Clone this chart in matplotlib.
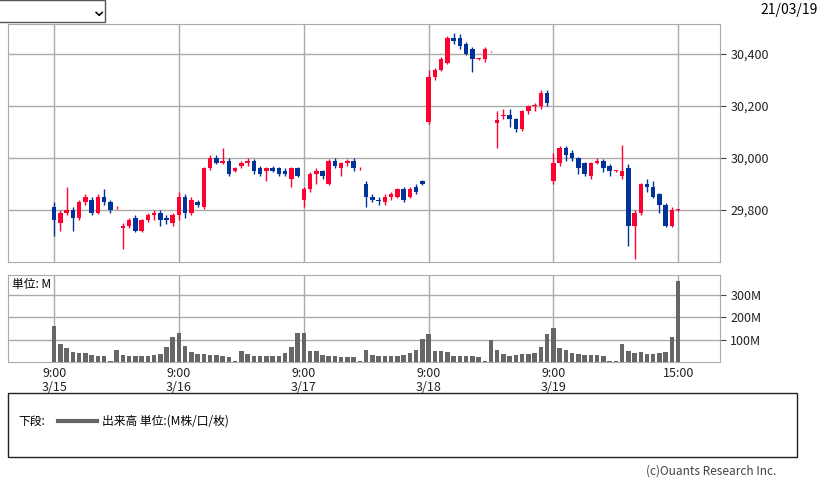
import matplotlib.pyplot as plt
from matplotlib.patches import Rectangle

plt.rcParams['font.family'] = ['Noto Sans CJK JP', 'DejaVu Sans']

# 20 slots per session day, 9:00 at slot 0, last slot (100) = 15:00 on 3/19
opens = [
    29810, 29750, 29790, 29800, 29770, 29830, 29840, 29790, 29850, 29830,
    29810, 29730, 29740, 29770, 29720, 29760, 29780, 29790, 29770, 29750,
    29780, 29850, 29790, 29830, 29810, 29960, 30000, 29980, 29990, 29950,
    29970, 29980, 29990, 29960, 29950, 29960, 29960, 29950, 29920, 29960,
    29840, 29880, 29940, 29950, 29900, 29990, 29960, 29980, 29990, 29960,
    29900, 29850, 29840, 29830, 29850, 29850, 29880, 29850, 29890, 29910,
    30140, 30310, 30340, 30365, 30460, 30460, 30440, 30420, 30380, 30380,
    30410, 30135, 30160, 30165, 30150, 30110, 30180, 30200, 30200, 30250,
    29910, 29980, 30040, 30020, 30000, 29980, 29930, 29980, 29990, 29970,
    29950, 29930, 29960, 29740, 29790, 29900, 29890, 29860, 29820, 29740,
    29800,
]
closes = [
    29760, 29790, 29800, 29770, 29830, 29850, 29790, 29850, 29830, 29800,
    29810, 29740, 29760, 29720, 29760, 29780, 29790, 29760, 29760, 29780,
    29850, 29790, 29840, 29820, 29960, 30000, 29980, 29990, 29940, 29960,
    29980, 29990, 29950, 29940, 29960, 29950, 29940, 29940, 29960, 29930,
    29880, 29940, 29950, 29930, 29990, 29970, 29980, 29990, 29960, 29960,
    29850, 29840, 29835, 29850, 29860, 29880, 29840, 29880, 29870, 29900,
    30310, 30340, 30380, 30460, 30450, 30430, 30400, 30380, 30380, 30420,
    30410, 30145, 30165, 30150, 30110, 30180, 30200, 30205, 30250, 30210,
    29980, 30040, 30010, 30000, 29960, 29940, 29980, 29990, 29960, 29950,
    29950, 29950, 29740, 29790, 29900, 29890, 29850, 29820, 29740, 29800,
    29800,
]
highs = [
    29830, 29800, 29890, 29810, 29840, 29860, 29850, 29860, 29880, 29840,
    29815, 29750, 29770, 29780, 29765, 29790, 29800, 29800, 29780, 29790,
    29870, 29860, 29850, 29840, 29965, 30010, 30010, 30040, 30000, 29965,
    29990, 30000, 29995, 29970, 29965, 29970, 29965, 29960, 29965, 29965,
    29890, 29945, 29960, 29955, 29995, 30000, 29985, 29995, 30000, 29965,
    29910, 29860, 29850, 29860, 29870, 29885, 29890, 29890, 29900, 29915,
    30340, 30345, 30390, 30470, 30480, 30475, 30445, 30425, 30385, 30425,
    30412, 30180, 30190, 30190, 30155, 30185, 30205, 30210, 30260, 30260,
    30020, 30045, 30045, 30030, 30005, 29985, 29985, 30000, 29995, 29975,
    29955, 30050, 29975, 29800, 29905, 29920, 29910, 29865, 29825, 29810,
    29805,
]
lows = [
    29700, 29720, 29780, 29720, 29760, 29820, 29780, 29785, 29820, 29790,
    29805, 29650, 29730, 29715, 29715, 29755, 29760, 29740, 29745, 29740,
    29760, 29770, 29780, 29810, 29805, 29955, 29975, 29975, 29930, 29945,
    29960, 29970, 29940, 29930, 29910, 29945, 29930, 29930, 29890, 29925,
    29810, 29870, 29900, 29920, 29895, 29960, 29930, 29970, 29950, 29955,
    29810, 29830, 29820, 29820, 29840, 29845, 29830, 29845, 29860, 29895,
    30130, 30300, 30335, 30360, 30440, 30420, 30395, 30330, 30375, 30370,
    30406, 30040, 30150, 30120, 30100, 30105, 30170, 30180, 30190, 30200,
    29900, 29970, 29990, 29990, 29940, 29930, 29920, 29975, 29945, 29930,
    29945, 29920, 29660, 29610, 29780, 29870, 29845, 29790, 29735, 29735,
    29795,
]
volumes = [
    160, 80, 62, 45, 40, 40, 32, 28, 25, 4, 55, 30, 25, 25, 25, 28, 32, 38, 65, 110,
    130, 70, 45, 38, 35, 32, 30, 26, 22, 5, 48, 35, 28, 25, 25, 25, 28, 40, 65, 130,
    130, 48, 48, 30, 28, 25, 22, 22, 22, 5, 55, 30, 25, 25, 25, 25, 30, 40, 55, 105,
    125, 50, 50, 45, 28, 28, 25, 25, 22, 5, 100, 55, 35, 25, 32, 35, 38, 40, 65, 125,
    150, 62, 55, 40, 35, 30, 30, 30, 28, 5, 5, 80, 50, 40, 45, 35, 35, 40, 45, 110,
    360,
]
tick_pos = [0, 20, 40, 60, 80, 100]
tick_labels = ['9:00\n3/15', '9:00\n3/16', '9:00\n3/17', '9:00\n3/18', '9:00\n3/19', '15:00']
price_ticks = [29800, 30000, 30200, 30400]
vol_ticks = [100, 200, 300]

UP = '#ff0033'
DOWN = '#003399'
GRID = '#aaaaaa'

fig = plt.figure(figsize=(8.28, 4.82), dpi=100)
ax = fig.add_axes([8 / 828, 1 - 262 / 482, 712 / 828, 238 / 482])
axv = fig.add_axes([8 / 828, 1 - 362 / 482, 712 / 828, 87 / 482])

xs = list(range(len(opens)))
for i, o, c, h, l in zip(xs, opens, closes, highs, lows):
    col = UP if c >= o else DOWN
    ax.vlines(i, l, h, color=col, lw=1, zorder=3)
    bottom = min(o, c)
    height = max(abs(c - o), 3)
    ax.add_patch(Rectangle((i - 0.36, bottom), 0.72, height, color=col, lw=0, zorder=4))

axv.bar(xs, volumes, width=0.72, color='#666666', zorder=3)

for a in (ax, axv):
    a.set_xlim(-7.4, 106.7)
    a.set_xticks(tick_pos)
    a.grid(True, color=GRID, lw=1)
    a.set_axisbelow(True)
    for s in a.spines.values():
        s.set_color(GRID)
    a.yaxis.tick_right()
    a.tick_params(length=4, color='#444444', labelsize=9, colors='#222222')
    a.tick_params(axis='x', length=0)

ax.set_ylim(29600, 30515)
ax.set_yticks(price_ticks)
ax.set_yticklabels([f'{v:,}' for v in price_ticks])
ax.set_xticklabels([])

axv.set_ylim(0, 389)
axv.set_yticks(vol_ticks)
axv.set_yticklabels([f'{v}M' for v in vol_ticks])
axv.set_xticklabels(tick_labels, fontsize=9, linespacing=1.1)
axv.text(0.005, 0.96, '単位: M', transform=axv.transAxes, fontsize=8.5, va='top', ha='left')

# dropdown box and date
fig.patches.append(Rectangle((-2 / 828, 1 - 22 / 482), 107 / 828, 22 / 482, transform=fig.transFigure,
                             fill=False, ec='#555555', lw=1))
fig.text(98 / 828, 1 - 11 / 482, '\u2304', fontsize=14, ha='center', va='center', family='DejaVu Sans')
fig.text(818 / 828, 1 - 10 / 482, '21/03/19', fontsize=10, ha='right', va='center')

# legend box
fig.patches.append(Rectangle((8 / 828, 1 - 457 / 482), 789 / 828, 64 / 482, transform=fig.transFigure,
                             fill=False, ec='#222222', lw=1))
fig.text(18 / 828, 1 - 421 / 482, '下段:', fontsize=8.5, va='center')
fig.add_artist(plt.Line2D([58 / 828, 97 / 828], [1 - 421 / 482] * 2, color='#666666', lw=3))
fig.text(102 / 828, 1 - 421 / 482, '出来高 単位:(M株/口/枚)', fontsize=8.5, va='center')
fig.text(776 / 828, 1 - 471 / 482, '(c)Ouants Research Inc.', fontsize=8.5, ha='right', va='center', color='#444444')

fig.savefig('out.png', dpi=100)
